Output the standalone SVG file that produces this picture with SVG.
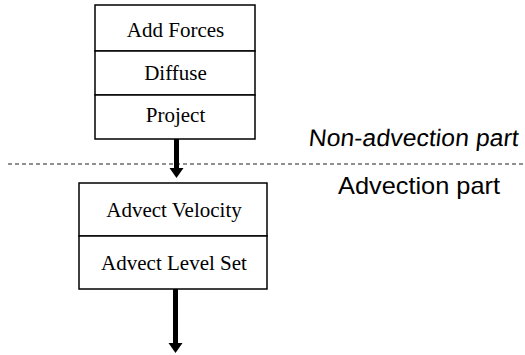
<svg xmlns="http://www.w3.org/2000/svg" width="525" height="355" viewBox="0 0 525 355">
<style>
.box{fill:#fff;stroke:#000;stroke-width:1.5}
.t{font-family:"Liberation Serif","Times New Roman",serif;font-size:21px;fill:#000;text-anchor:middle}
.s{font-family:"Liberation Sans",Arial,sans-serif;font-size:24px;fill:#000}
.shaft{stroke:#000;stroke-width:5;fill:none}
.head{fill:#000}
.divider{stroke:#222;stroke-width:1.2;stroke-dasharray:4,3}
</style>
<rect width="525" height="355" fill="#fff"/>
<g id="connectors">
<line class="divider" x1="8" y1="164" x2="525" y2="164"/>
<path class="shaft" d="M176.5,139 V170"/>
<polygon class="head" points="169.5,168 183.5,168 176.5,178"/>
<path class="shaft" d="M175.5,289 V344"/>
<polygon class="head" points="168.5,343 182.5,343 175.5,353"/>
</g>
<g id="add-forces"><rect class="box" x="95" y="5" width="160" height="46"/><text class="t" x="175.5" y="37">Add Forces</text></g>
<g id="diffuse"><rect class="box" x="95" y="51" width="160" height="44"/><text class="t" x="175.5" y="80">Diffuse</text></g>
<g id="project"><rect class="box" x="95" y="95" width="160" height="44"/><text class="t" x="175.5" y="122">Project</text></g>
<g id="advect-velocity"><rect class="box" x="79" y="183" width="188" height="53"/><text class="t" x="174" y="217">Advect Velocity</text></g>
<g id="advect-level-set"><rect class="box" x="79" y="236" width="188" height="53"/><text class="t" x="174" y="270">Advect Level Set</text></g>
<g id="label-non-advection" transform="translate(308,146) skewX(-6)"><text class="s" x="0" y="0" textLength="210" lengthAdjust="spacingAndGlyphs">Non-advection part</text></g>
<g id="label-advection"><text class="s" x="338" y="194" textLength="162" lengthAdjust="spacingAndGlyphs">Advection part</text></g>
</svg>
